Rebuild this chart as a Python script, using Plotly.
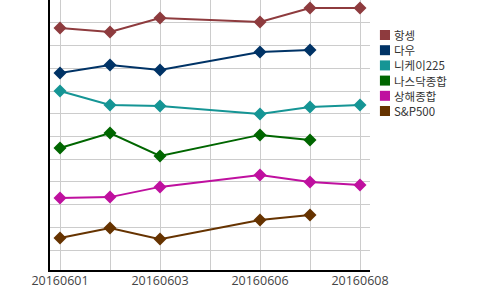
import plotly.graph_objects as go

dates = ["20160601", "20160602", "20160603", "20160605", "20160606", "20160607", "20160608"]
tick_labels = ["20160601", "20160603", "20160606", "20160608"]

names = ["항셍", "다우", "니케이225", "나스닥종합", "상해종합", "S&P500"]
colors = ["#8E3B3E", "#003366", "#159595", "#006600", "#BF109F", "#663300"]

hangseng = [97.8, 96.0, 102.2, None, 100.4, 106.6, 106.6]
dow = [78.0, 81.5, 79.3, None, 87.2, 88.1, None]
nikkei = [70.0, 63.9, 63.4, None, 59.9, 63.0, 63.9]
nasdaq = [44.9, 51.5, 41.4, None, 50.7, 48.5, None]
shanghai = [22.9, 23.3, 27.8, None, 33.0, 30.0, 28.6]
sp500 = [5.3, 9.7, 4.8, None, 13.2, 15.4, None]

series = [hangseng, dow, nikkei, nasdaq, shanghai, sp500]

fig = go.Figure()
for name, color, vals in zip(names, colors, series):
    fig.add_trace(go.Scatter(
        x=dates, y=vals, name=name, mode="lines+markers",
        connectgaps=True,
        line=dict(color=color, width=2),
        marker=dict(symbol="diamond", size=10, color=color),
        showlegend=False,
    ))

# manual legend (square swatches, tight spacing)
shapes = []
annotations = []
top_px = 35
step_px = 15.2
plot_h = 270
for i, (name, color) in enumerate(zip(names, colors)):
    cy = 1 - (top_px + i * step_px) / plot_h
    half = 5 / plot_h
    shapes.append(dict(type="rect", xref="paper", yref="paper",
                       x0=1.031, x1=1.0625, y0=cy - half, y1=cy + half,
                       fillcolor=color, line=dict(width=0)))
    annotations.append(dict(xref="paper", yref="paper", x=1.072, y=cy,
                            text=name.replace("&", "&amp;"), showarrow=False,
                            xanchor="left", yanchor="middle", height=14,
                            borderpad=0,
                            font=dict(size=11.5, color="#333333",
                                      family="Noto Sans CJK KR")))

fig.update_layout(
    width=500, height=290,
    margin=dict(l=50, r=130, t=0, b=20),
    paper_bgcolor="white", plot_bgcolor="white",
    showlegend=False,
    shapes=shapes, annotations=annotations,
    font=dict(family="Open Sans", size=12.5, color="#444444"),
    xaxis=dict(
        type="category", categoryorder="array", categoryarray=dates,
        range=[-0.2, 6.2],
        tickvals=dates, ticktext=[d if d in tick_labels else "" for d in dates],
        showgrid=True, gridcolor="#cccccc", gridwidth=1,
        showline=True, linecolor="black", linewidth=1.5,
        ticks="", zeroline=False, ticklabelstandoff=-2,
    ),
    yaxis=dict(
        range=[-8.8, 110.1],
        tick0=0, dtick=10,
        showticklabels=False,
        showgrid=True, gridcolor="#cccccc", gridwidth=1,
        showline=True, linecolor="black", linewidth=1.5,
        ticks="", zeroline=False,
    ),
)

fig.write_html("out.html")
